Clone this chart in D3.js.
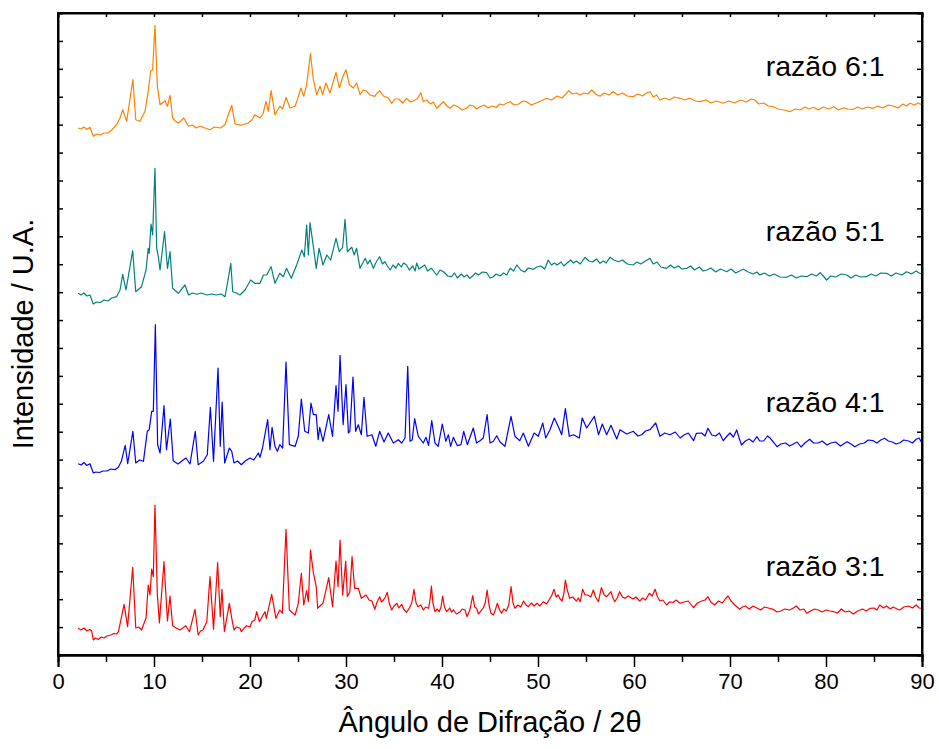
<!DOCTYPE html>
<html>
<head>
<meta charset="utf-8">
<script src="https://cdnjs.cloudflare.com/ajax/libs/d3/7.8.5/d3.min.js"></script>
<style>
  body { margin: 0; background: #fff; }
  text { font-family: "Liberation Sans", Arial, sans-serif; fill: #000; }
</style>
</head>
<body>
<svg id="chart" width="939" height="749"></svg>
<script>
// difratogramas (2theta, intensidade em U.A., ja deslocados verticalmente)
var ratio3 = [[2.1,26.7],[2.4,25],[2.7,27],[3.0,24],[3.3,25.5],[3.5,24.3],[3.68,15],[3.9,17],[4.2,15.5],[4.5,18],[4.8,17],[5.1,19],[5.5,20],[5.8,21.5],[6.1,21],[6.3,23.3],[6.88,50.7],[7.25,28.3],[7.78,87.7],[8.1,27],[8.4,28],[8.7,25],[9.17,37],[9.4,70],[9.58,60],[9.76,86],[9.93,78.3],[10.1,150],[10.35,60],[10.56,32],[11.04,93.3],[11.4,34],[11.67,59],[11.94,29.3],[12.3,27],[12.7,25],[13.0,27],[13.3,29.3],[13.7,23.3],[14.27,45.7],[14.6,20],[14.85,24],[15.1,25],[15.5,33.3],[15.83,78.3],[16.2,25.7],[16.63,92.3],[16.9,38.3],[17.08,65.7],[17.33,23.3],[17.85,51.7],[18.1,36.7],[18.33,25],[18.6,28],[18.96,26.7],[19.1,23.3],[19.4,27],[19.65,29.3],[20.0,28],[20.2,33.3],[20.5,35],[20.7,43.3],[20.97,33.3],[21.25,38],[21.56,43.3],[21.7,36.7],[22.26,60.7],[22.7,36.7],[23.1,45],[23.37,41.7],[23.75,125.7],[24.1,45],[24.3,43.3],[24.7,40],[25.03,51.7],[25.35,81.7],[25.6,50],[25.9,64.3],[26.08,53.3],[26.3,105],[26.6,82.3],[26.9,68.3],[27.05,46.7],[27.6,51.7],[28.2,77.3],[28.6,48.3],[28.96,94],[29.17,68.3],[29.38,115],[29.65,60],[29.97,94],[30.14,58.3],[30.4,63.3],[30.63,98.3],[30.9,66.7],[31.28,66.7],[31.6,56.7],[32.1,60],[32.4,55],[32.7,54],[33.0,45.7],[33.2,52],[33.5,58.3],[33.7,53],[33.9,55],[34.1,58],[34.3,62.7],[34.5,52],[34.76,45],[35.0,49],[35.3,51.7],[35.5,47],[35.8,50.7],[36.0,46],[36.3,42.7],[36.6,47],[36.85,52],[37.08,65.7],[37.3,52],[37.5,48.3],[37.8,50],[38.05,45],[38.3,48],[38.6,46.7],[38.75,55],[38.9,69],[39.05,52],[39.27,43.3],[39.5,46],[39.7,43.3],[39.9,48],[40.07,59],[40.25,48],[40.5,43.3],[40.8,47],[41.0,43],[41.2,45],[41.5,41],[41.9,43.3],[42.1,46],[42.4,45],[42.6,38.3],[42.9,45],[43.2,59.3],[43.4,48],[43.6,46.7],[43.8,41],[44.0,43.3],[44.3,47],[44.5,52],[44.7,65],[44.9,50],[45.1,41.7],[45.35,40],[45.55,45],[45.76,51.7],[46.0,45],[46.2,41.7],[46.45,46],[46.7,44],[46.95,50],[47.2,68.3],[47.4,52],[47.6,46.7],[47.9,50],[48.2,48],[48.5,54],[48.75,50],[49.0,48.3],[49.3,52],[49.6,49],[49.9,51.7],[50.2,49],[50.55,53.3],[50.9,51],[51.25,56.7],[51.45,60],[51.67,65.7],[51.9,58],[52.1,60],[52.3,56],[52.5,54],[52.7,62],[52.85,75],[53.05,65],[53.3,56.7],[53.6,58],[54.0,54],[54.2,57],[54.4,53.3],[54.65,65.7],[54.9,60],[55.2,60],[55.5,58],[55.76,65],[56.0,58],[56.3,53.3],[56.6,67.3],[56.9,60],[57.15,58.3],[57.6,63.3],[57.8,57],[58.0,53.3],[58.25,57],[58.5,63.3],[58.8,58],[59.06,56.7],[59.4,59],[59.9,56],[60.2,58],[60.6,54],[60.9,57],[61.2,55],[61.6,61.7],[61.9,59],[62.2,65.7],[62.45,58],[62.7,54],[63.0,55],[63.4,50],[63.7,53],[64.1,52.7],[64.4,55],[64.8,51.7],[65.2,53],[65.66,54],[65.9,51],[66.2,47.3],[66.6,52],[67.05,54],[67.4,55],[67.7,58.3],[68.0,53],[68.4,50],[68.8,54],[69.2,52],[69.5,56],[69.8,59],[70.1,54],[70.5,50],[71.0,45.7],[71.3,48],[71.6,49],[72.0,46],[72.4,49],[72.8,47],[73.2,45],[73.6,48],[74.0,47],[74.5,45.7],[74.9,43],[75.3,44],[75.7,46],[76.2,45],[76.6,47],[76.9,49],[77.3,45],[77.7,46],[78.0,41.7],[78.4,44],[78.8,46],[79.2,45],[79.6,43],[80.0,45],[80.4,44],[80.8,43.3],[81.2,42],[81.6,46],[82.0,43],[82.4,44],[82.85,41],[83.3,44],[83.8,46],[84.2,44],[84.6,46.7],[85.0,47],[85.3,45],[85.6,50],[86.0,47],[86.3,49],[86.7,46],[87.0,48],[87.4,46],[87.7,45],[88.1,48],[88.6,49],[89.0,47],[89.4,50],[89.7,47],[90,46.7]];

var ratio4 = [[2.1,191.3],[2.4,190],[2.7,192.5],[3.0,189.5],[3.33,191.3],[3.68,182],[3.95,183],[4.3,182.5],[4.7,184],[5.1,184],[5.5,186],[5.94,185.3],[6.3,188],[6.6,193.7],[7.0,209.7],[7.26,191.3],[7.8,223.7],[8.1,192],[8.5,195],[8.9,193.7],[9.3,223.7],[9.5,225.3],[9.76,243.7],[9.93,243.7],[10.14,330.3],[10.38,210.3],[10.63,202],[11.04,249.3],[11.3,205.3],[11.7,236],[12.0,194.3],[12.5,191],[12.9,194],[13.33,197],[13.75,191],[14.3,223.7],[14.6,190.3],[15.14,193.7],[15.55,200.3],[15.87,247.7],[16.2,193.7],[16.67,287],[16.9,208.7],[17.1,253],[17.36,192],[17.85,207],[18.1,203.7],[18.33,192],[18.7,194],[19.1,190.3],[19.5,194],[20.0,197],[20.4,195],[20.87,202],[21.04,197.7],[21.3,207],[21.84,235.3],[22.08,205.3],[22.3,227.7],[22.6,208.7],[22.85,203.7],[23.1,210.3],[23.4,207],[23.75,293],[24.1,210.3],[24.7,208.7],[25.03,218.7],[25.35,256],[25.7,223.7],[26.08,222],[26.35,252],[26.6,240.3],[26.9,240.3],[27.1,215.3],[27.26,227.7],[27.6,213.7],[28.2,240.3],[28.6,218.7],[28.96,269.3],[29.17,243.7],[29.38,299.7],[29.7,230.3],[30.0,270.3],[30.25,222],[30.4,223.7],[30.73,278],[31.0,223.7],[31.28,230.3],[31.6,220.3],[31.87,257.7],[32.2,218.7],[32.7,220.3],[33.1,208.7],[33.5,223.7],[33.96,213],[34.4,222],[34.93,212],[35.45,215.3],[35.8,212],[36.15,217],[36.43,288.7],[36.67,213.7],[36.9,215.3],[37.15,236.3],[37.53,218.7],[38.05,212],[38.33,217.7],[38.6,209.7],[38.93,234.3],[39.27,212],[39.6,208.7],[40.03,231],[40.4,213.7],[40.66,220.3],[40.9,208.7],[41.18,217.7],[41.6,209.3],[41.98,210.3],[42.26,223.7],[42.64,210.3],[43.26,227],[43.6,212],[43.96,214.3],[44.3,217],[44.7,240.3],[45.0,212],[45.35,213.7],[45.7,219.3],[46.04,213],[46.56,208.7],[47.19,238.7],[47.6,218.7],[48.1,214.3],[48.47,222],[49.0,208.7],[49.6,222],[50.03,218.7],[50.5,232],[50.8,217],[51.25,225.3],[51.7,237],[52.1,228.7],[52.47,220.3],[52.85,246.3],[53.26,218.7],[53.7,220.3],[54.3,217],[54.6,237],[55.07,227],[55.87,238.7],[56.3,220.3],[56.7,231],[57.15,220.3],[57.6,229.7],[58.2,216],[58.54,225.3],[59.24,221],[59.93,223.7],[60.4,219],[60.8,220.3],[61.2,224],[61.67,225.3],[62.26,232],[62.7,218.7],[63.2,222],[63.75,220.3],[64.3,223],[64.8,217],[65.2,220],[65.66,222],[66.2,214.3],[66.5,221.7],[67.05,222],[67.4,219],[67.7,226.7],[68.1,220],[68.5,219],[68.9,222],[69.3,214.3],[69.7,219],[70.0,222],[70.35,218],[70.7,225],[70.95,217],[71.2,210],[71.6,214],[72.0,216],[72.4,213],[72.8,218.3],[73.1,214],[73.5,214],[73.9,219],[74.2,216.7],[74.6,212],[74.9,208.3],[75.3,211],[75.8,212],[76.2,209],[76.6,211],[77.0,213],[77.4,208],[77.8,212],[78.3,215.7],[78.7,212],[79.2,212],[79.6,214],[80.1,210],[80.5,212],[81.0,213],[81.5,209],[82.2,213.3],[82.6,211],[83.0,208.3],[83.5,211],[84.0,212],[84.4,215],[84.9,214.3],[85.3,212],[85.7,215],[86.1,216.7],[86.5,214],[86.9,213],[87.3,211],[87.7,212.3],[88.1,215],[88.6,214],[89.0,212],[89.4,215.7],[89.7,217],[90,211.7]];

var ratio5 = [[2.1,361.7],[2.4,360],[2.7,362],[3.0,359],[3.33,360],[3.68,351],[4.0,353],[4.4,352.5],[4.8,355],[5.2,354],[5.6,357],[6.1,358.3],[6.46,365],[6.74,380.7],[7.08,365],[7.78,404.3],[8.1,363.3],[8.7,368.3],[9.17,385],[9.4,406.7],[9.5,401.7],[9.69,431],[9.86,420],[10.1,486.7],[10.28,406.7],[10.45,398.3],[10.63,385],[11.1,423.3],[11.4,386.7],[11.67,403.3],[11.94,366.7],[12.53,361.7],[13.23,370],[13.6,360],[14.0,362],[14.45,360.7],[14.9,362],[15.5,360],[16.0,361],[16.5,360],[17.0,361],[17.4,358.3],[17.74,376.7],[18.0,391.7],[18.2,363.3],[18.6,362],[18.96,360],[19.48,365],[20.07,375],[20.5,371.7],[21.04,371.7],[21.4,380],[21.74,380],[22.2,388.3],[22.6,371.7],[23.1,381.7],[23.47,378.3],[23.8,386.7],[24.3,376.7],[24.86,390],[25.4,405],[25.66,398.3],[25.9,430],[26.08,400],[26.25,432.3],[26.6,408.3],[26.9,386.7],[27.2,406.7],[27.6,390],[28.0,400],[28.4,395],[28.96,416.7],[29.3,403.3],[29.65,407.7],[29.9,435.7],[30.14,403.3],[30.6,407.7],[30.86,400],[31.1,406.7],[31.46,386.7],[31.75,392],[32.0,396.7],[32.25,391],[32.5,395],[32.85,386.7],[33.15,393],[33.5,398.3],[33.8,391],[34.06,393.3],[34.3,389],[34.6,385],[34.9,390],[35.2,387],[35.45,391.7],[35.75,388],[36.0,392],[36.3,390],[36.6,385],[36.95,389],[37.2,384],[37.36,392],[37.6,386],[37.9,388],[38.2,390],[38.5,384],[38.9,386.7],[39.2,383],[39.45,380],[39.8,385],[40.2,383],[40.6,379],[41.0,378.3],[41.3,382],[41.6,377],[42.0,381],[42.3,378],[42.6,380],[42.9,376.7],[43.2,379],[43.5,382],[43.8,380],[44.2,383],[44.65,382.3],[45.0,377],[45.3,378],[45.65,381],[46.04,379],[46.4,382],[46.75,380],[47.1,386.7],[47.45,384],[47.8,390],[48.2,385],[48.6,383],[49.0,387],[49.5,385.7],[49.9,388],[50.3,389],[50.7,386],[51.07,395],[51.4,390],[51.7,392],[52.0,390],[52.4,393],[52.7,389],[53.0,391.7],[53.4,395],[53.7,392],[54.0,394],[54.4,391],[54.9,397.7],[55.3,394],[55.7,393],[56.1,396],[56.46,391.7],[56.8,394],[57.1,392],[57.5,397.7],[57.9,395],[58.4,393.3],[58.8,395],[59.3,391],[59.9,390],[60.3,393],[60.7,391],[61.2,394],[61.67,396.7],[62.0,391],[62.4,393],[62.8,388],[63.4,386.7],[63.8,390],[64.2,387],[64.6,389],[65.0,386],[65.5,386.7],[65.9,389],[66.3,385],[66.8,388],[67.2,384],[67.6,385],[68.0,387],[68.5,383],[69.0,386],[69.66,383.3],[70.1,386],[70.6,382],[71.0,384],[71.4,385.7],[71.9,383],[72.4,381],[72.8,383],[73.1,380],[73.6,382],[74.1,379],[74.6,381],[75.2,378],[75.9,377.7],[76.4,380],[76.9,377],[77.4,379],[78.0,378.3],[78.5,381],[79.0,379],[79.4,382.3],[79.8,378],[80.07,375],[80.5,379],[81.0,378],[81.6,381],[82.15,380],[82.6,377],[83.1,380],[83.6,378],[84.2,378.3],[84.7,381],[85.2,379],[85.7,382],[86.3,381.7],[86.8,379],[87.3,382],[87.9,380],[88.4,383.3],[88.9,381],[89.4,384],[89.7,382],[90,381]];

var ratio6 = [[2.1,527],[2.4,526],[2.7,528],[3.0,525.5],[3.33,527.7],[3.68,518.7],[4.0,521],[4.4,520],[4.8,522],[5.2,522],[5.6,525],[6.1,530.3],[6.46,537],[6.74,545.3],[7.15,533.7],[7.8,575.3],[8.1,535.3],[8.54,533.7],[9.06,543.7],[9.4,563.7],[9.65,583.7],[9.86,585.3],[10.1,629.7],[10.35,568.7],[10.63,550.3],[11.15,554.3],[11.4,548.7],[11.67,559.7],[11.94,537],[12.2,534],[12.53,532],[12.8,534],[13.1,537],[13.6,528.7],[14.0,530],[14.4,527],[14.8,528.7],[15.3,527],[15.83,525.3],[16.3,528],[16.9,527],[17.4,530.3],[17.74,540.3],[18.1,549.7],[18.44,531],[19.1,529.7],[19.8,532],[20.2,535],[20.5,540.3],[21.04,537],[21.35,541],[21.67,553.7],[21.9,543.7],[22.2,564.3],[22.6,540.3],[23.1,548.7],[23.4,546],[23.75,557.7],[24.17,547],[24.7,548.7],[24.93,555.3],[25.3,567],[25.6,558.7],[25.9,570.3],[26.3,601.3],[26.6,575.3],[26.95,560.3],[27.3,568.7],[27.57,560.3],[27.9,572],[28.33,562],[28.96,582.7],[29.3,567],[29.65,577.7],[30.0,585.3],[30.35,570.3],[30.76,567],[31.1,572],[31.46,560.3],[31.8,565],[32.15,563.7],[32.5,560],[33.0,558.7],[33.25,562],[33.5,564.3],[33.9,559],[34.4,557],[34.76,551.7],[35.1,556],[35.5,556],[35.9,552],[36.3,556.7],[36.7,553],[37.0,554],[37.4,556],[37.8,562.3],[38.05,553.3],[38.4,555],[38.8,551],[39.1,553],[39.45,546.7],[39.8,550],[40.14,553.3],[40.5,549],[40.83,546.7],[41.2,550],[41.7,548],[42.1,545],[42.57,546.7],[42.9,550],[43.3,549],[43.6,546],[43.96,548.3],[44.4,550],[44.8,547],[45.2,549],[45.7,547.7],[46.0,551],[46.4,550],[46.75,552],[47.1,553.3],[47.5,550],[48.0,551],[48.4,554],[48.8,553.3],[49.3,550],[49.8,552],[50.3,554],[50.9,556.7],[51.4,555],[52.0,559],[52.5,557],[52.9,561],[53.2,564.3],[53.6,561],[54.0,562],[54.4,560],[54.8,562],[55.2,561],[55.6,565],[56.0,561],[56.46,558.7],[56.9,562],[57.4,560],[57.85,563.3],[58.3,560],[58.8,562],[59.3,559],[59.9,558.3],[60.4,561],[60.9,559],[61.3,562],[61.67,563.3],[62.0,558],[62.35,560],[62.7,555],[63.2,557],[63.7,555],[64.2,558],[64.8,556.7],[65.3,555],[65.8,557],[66.4,554],[66.9,553.3],[67.5,555],[68.0,552],[68.6,554],[69.3,551.7],[69.9,554],[70.5,552],[71.1,555],[71.7,553],[72.2,556],[72.6,555],[73.0,551],[73.5,552],[74.0,549],[74.5,548.3],[75.0,546],[75.6,545],[76.25,543.3],[76.8,546],[77.3,545],[77.8,548],[78.2,546],[78.7,547.7],[79.2,545],[79.7,548],[80.3,546],[80.8,548.3],[81.3,545],[81.8,547],[82.3,546],[82.85,545.7],[83.3,548],[83.8,546],[84.3,548],[84.9,546.7],[85.4,549],[85.9,547],[86.5,550],[87.0,549],[87.5,547],[88.0,551],[88.4,549],[88.75,551.7],[89.2,550],[89.6,552],[90,550]];

var seriesData = [ratio3, ratio4, ratio5, ratio6];
var seriesNames = ["razão 3:1", "razão 4:1", "razão 5:1", "razão 6:1"];
var seriesColors = ["#ff0000", "#0000ff", "#008080", "#ff8000"];

var xTickValues = [0, 10, 20, 30, 40, 50, 60, 70, 80, 90];
var xMinorValues = [5, 15, 25, 35, 45, 55, 65, 75, 85];
var yTickCount = 23;

var margin = {top: 13, right: 17, bottom: 94, left: 58};
var width = 939 - margin.left - margin.right;
var height = 749 - margin.top - margin.bottom;

var svg = d3.select("#chart");
var g = svg.append("g").attr("transform", "translate(" + margin.left + "," + margin.top + ")");

var x = d3.scaleLinear().domain([0, 90]).range([0, width]);
var y = d3.scaleLinear().domain([0, 642]).range([height, 0]);
var yTicks = d3.range(1, yTickCount).map(function (i) { return i * 642 / yTickCount; });

// curvas
var line = d3.line()
  .x(function (d) { return x(d[0]); })
  .y(function (d) { return y(d[1]); });

seriesData.forEach(function (s, i) {
  g.append("path")
    .datum(s)
    .attr("fill", "none")
    .attr("stroke", seriesColors[i])
    .attr("stroke-width", 1.2)
    .attr("stroke-linejoin", "round")
    .attr("d", line);
});

// rotulos das curvas
seriesData.forEach(function (s, i) {
  g.append("text")
    .attr("x", x(86.1))
    .attr("y", y(s[0][1] + 52))
    .attr("text-anchor", "end")
    .style("font-size", "28.5px")
    .text(seriesNames[i]);
});

// eixos
var xAxis = g.append("g").attr("transform", "translate(0," + height + ")")
  .call(d3.axisBottom(x).tickValues(xTickValues).tickSize(12).tickPadding(6).tickFormat(d3.format("d")));
g.append("g").attr("transform", "translate(0," + height + ")")
  .call(d3.axisBottom(x).tickValues(xMinorValues).tickSize(7).tickFormat(""));
g.append("g")
  .call(d3.axisTop(x).tickValues(xTickValues.concat(xMinorValues)).tickSize(-4).tickFormat(""));
g.append("g")
  .call(d3.axisLeft(y).tickValues(yTicks).tickSize(-5).tickFormat(""));
g.append("g").attr("transform", "translate(" + width + ",0)")
  .call(d3.axisRight(y).tickValues(yTicks).tickSize(-5).tickFormat(""));

g.selectAll(".domain").attr("stroke", "#000").attr("stroke-width", 2);
g.selectAll(".tick line").attr("stroke", "#000").attr("stroke-width", 1.5);
xAxis.selectAll("text").style("font-size", "22px");

// moldura
g.append("rect")
  .attr("width", width).attr("height", height)
  .attr("fill", "none").attr("stroke", "#000").attr("stroke-width", 2);

// titulos
svg.append("text")
  .attr("x", margin.left + width / 2)
  .attr("y", 732)
  .attr("text-anchor", "middle")
  .style("font-size", "29px")
  .text("Ângulo de Difração / 2θ");

svg.append("text")
  .attr("transform", "translate(33," + (margin.top + height / 2) + ") rotate(-90)")
  .attr("text-anchor", "middle")
  .style("font-size", "29px")
  .text("Intensidade / U.A.");
</script>
</body>
</html>
